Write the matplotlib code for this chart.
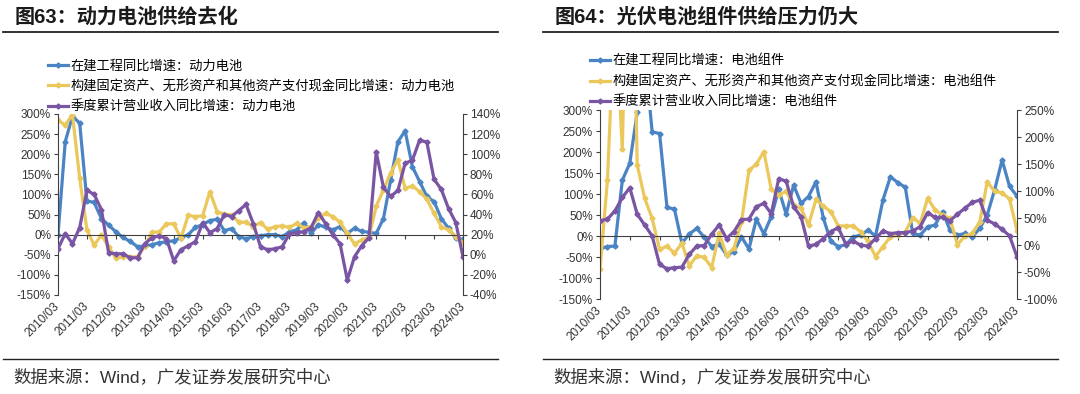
import numpy as np
import matplotlib.pyplot as plt
from matplotlib.lines import Line2D

plt.rcParams['font.family'] = ['Liberation Sans', 'Noto Sans CJK SC', 'DejaVu Sans']
plt.rcParams['axes.unicode_minus'] = False

# quarters 2010/03 .. 2024/03
quarters = [f"{y}/{m:02d}" for y in range(2010, 2025) for m in (3, 6, 9, 12)][:57]

# 图63 动力电池 (blue/yellow on left axis, purple on right axis)
bat_cip = [0, 231, 295, 277, 84, 80, 40, 24, 7, -7, -17, -30, -28, -25, -20, -18, -15, -8, 0, 18,
           25, 35, 38, 10, 15, -5, -10, -5, -3, 0, 0, -5, 7, 12, 30, 3, 25, 18, 12, 20,
           3, 16, 8, 6, 3, 40, 136, 231, 258, 169, 132, 95, 82, 40, 16, -9, -12]
bat_capex = [284, 273, 298, 140, 12, -26, -1, -30, -59, -55, -55, -55, -28, 6, 7, 27, 27, -9, 48, 45,
             47, 107, 57, 51, 49, 31, 31, 20, 30, 13, 20, 22, 18, 28, 17, 20, 41, 53, 45, 31,
             3, -23, -13, -7, 71, 111, 154, 186, 115, 121, 107, 88, 53, 20, 12, -5, -20]
bat_rev = [6, 21, 11, 27, 64, 60, 45, 2, 1, 1, -3, -3, 11, 17, 19, 16, -6, 5, 9, 13,
           32, 22, 26, 40, 38, 44, 50, 31, 8, 5, 6, 8, 21, 22, 23, 27, 42, 31, 20, 11,
           -25, -2, 9, 17, 102, 67, 58, 64, 91, 94, 114, 112, 75, 65, 46, 32, -2]

# 图64 电池组件
pv_cip = [-30, -25, -24, 133, 173, 295, 440, 248, 244, 68, 64, -17, 5, 18, -3, -25, -19, -45, -37, -2,
          -31, 40, 5, 46, 111, 52, 121, 78, 94, 129, 42, -13, -25, -21, -2, 2, 14, 0, 86, 141,
          127, 116, 6, 2, 22, 26, 58, 14, 2, 6, -2, 18, 50, 110, 181, 118, 95]
pv_capex = [-79, 133, 550, 206, 1000, 169, 90, 42, -32, -24, -41, -17, -71, -47, -51, -75, 6, -45, -29, 34,
            156, 171, 201, 111, 98, 106, 74, 66, 26, 87, 71, 58, 24, 24, 24, 10, -13, -49, -25, -2,
            2, 10, 44, 30, 90, 62, 50, 42, -21, 0, 6, 34, 129, 106, 103, 88, 13]
pv_rev = [45, 48, 63, 88, 106, 57, 37, 17, -36, -44, -42, -41, -17, -2, -1, 20, 37, 12, 25, 47,
          48, 71, 77, 58, 123, 118, 71, 52, -2, 1, 12, 25, 32, 2, 7, 0, -2, 12, 26, 21,
          23, 23, 26, 34, 60, 51, 51, 45, 57, 68, 79, 83, 46, 39, 29, 17, -22]

BLUE = '#4A84C4'
YELLOW = '#EBC85C'
PURPLE = '#7A55A3'
GREY = '#404040'


def draw_panel(fig, rect, series, labels, left_lim, right_lim, right_step, leg_anchor):
    ax = fig.add_axes(rect)
    ax2 = ax.twinx()
    x = np.arange(len(quarters))
    style = dict(lw=2.3, marker='D', ms=2.6)
    h1, = ax.plot(x, series[0], color=BLUE, label=labels[0], **style)
    h2, = ax.plot(x, series[1], color=YELLOW, label=labels[1], **style)
    h3, = ax2.plot(x, series[2], color=PURPLE, label=labels[2], **style)

    ax.set_xlim(0, len(quarters) - 1)
    ax.set_ylim(*left_lim)
    ax.set_yticks(np.arange(left_lim[0], left_lim[1] + 1, 50))
    ax.set_yticklabels([f"{v:.0f}%" for v in ax.get_yticks()])
    ax2.set_ylim(*right_lim)
    ax2.set_yticks(np.arange(right_lim[0], right_lim[1] + 1, right_step))
    ax2.set_yticklabels([f"{v:.0f}%" for v in ax2.get_yticks()])

    # zero line carries the small year ticks
    ax.spines['bottom'].set_position(('data', 0))
    ax.spines['bottom'].set_color(GREY)
    ax.set_xticks(x[::4])
    ax.tick_params(axis='x', length=3, color=GREY, labelbottom=False)
    for a in (ax, ax2):
        a.spines['top'].set_visible(False)
        a.spines['left'].set_color(GREY)
        a.spines['right'].set_color(GREY)
    ax2.spines['bottom'].set_visible(False)
    ax.spines['right'].set_visible(False)
    ax2.spines['left'].set_visible(False)
    ax.tick_params(axis='y', length=3, color=GREY, labelsize=8.5, labelcolor='#333333', pad=2)
    ax2.tick_params(axis='y', length=3, color=GREY, labelsize=8.5, labelcolor='#333333', pad=2)

    # date labels at the bottom of the plot area
    sec = ax.secondary_xaxis('bottom')
    sec.spines['bottom'].set_visible(False)
    sec.set_xticks(x[::4])
    sec.set_xticklabels(quarters[::4], rotation=45, ha='right', va='center',
                        rotation_mode='anchor', fontsize=8.5, color='#333333')
    sec.tick_params(length=0, pad=7)

    fig.legend(handles=[h1, h2, h3], loc='upper left', bbox_to_anchor=leg_anchor,
               frameon=False, fontsize=9.5, handlelength=1.5, handletextpad=0.2,
               labelspacing=0.57, borderpad=0, borderaxespad=0)
    return ax


fig = plt.figure(figsize=(10.8, 3.94), dpi=100)

draw_panel(fig, [58 / 1080, 0.2513, 405 / 1080, 0.4594],
           [bat_cip, bat_capex, bat_rev],
           ['在建工程同比增速：动力电池',
            '构建固定资产、无形资产和其他资产支付现金同比增速：动力电池',
            '季度累计营业收入同比增速：动力电池'],
           (-150, 300), (-40, 140), 20, (48 / 1080, 0.848))

draw_panel(fig, [600 / 1080, 0.2411, 417 / 1080, 0.4797],
           [pv_cip, pv_capex, pv_rev],
           ['在建工程同比增速：电池组件',
            '构建固定资产、无形资产和其他资产支付现金同比增速：电池组件',
            '季度累计营业收入同比增速：电池组件'],
           (-150, 300), (-100, 250), 50, (590 / 1080, 0.861))

# titles, rules and source notes
fig.text(15 / 1080, 0.957, '图63：动力电池供给去化', fontsize=14.5, fontweight='bold', va='center', color='#1a1a1a')
fig.text(555 / 1080, 0.957, '图64：光伏电池组件供给压力仍大', fontsize=14.5, fontweight='bold', va='center', color='#1a1a1a')
for x0, x1 in [(3, 498), (543, 1058)]:
    fig.add_artist(Line2D([x0 / 1080, x1 / 1080], [0.919, 0.919], transform=fig.transFigure, color='#222222', lw=1.3))
    fig.add_artist(Line2D([x0 / 1080, x1 / 1080], [0.0888, 0.0888], transform=fig.transFigure, color='#222222', lw=1.0))
fig.text(13 / 1080, 0.043, '数据来源：Wind，广发证券发展研究中心', fontsize=12.5, va='center', color='#333333')
fig.text(553 / 1080, 0.043, '数据来源：Wind，广发证券发展研究中心', fontsize=12.5, va='center', color='#333333')

fig.savefig('out.png', dpi=100)
